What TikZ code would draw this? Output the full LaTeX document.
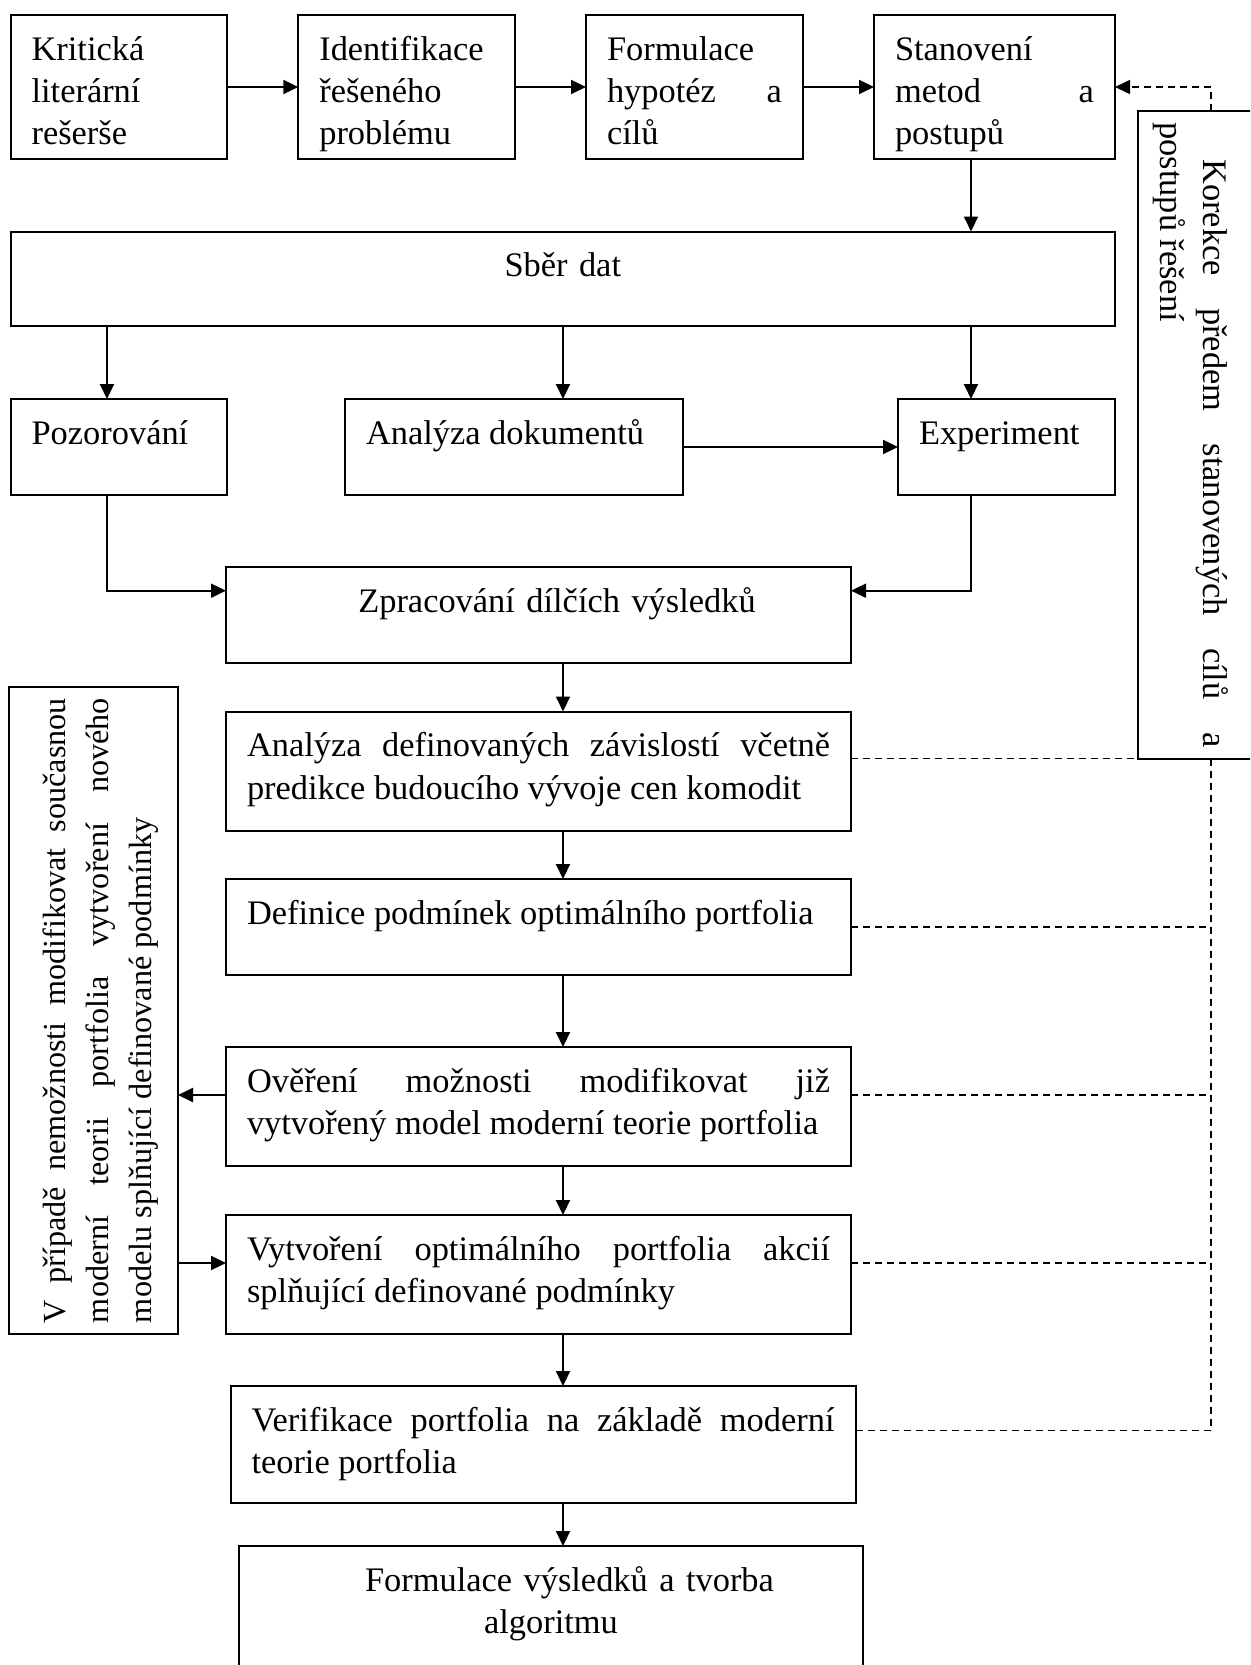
\documentclass[tikz,border=0pt]{standalone}
\usepackage{fontspec}
\setmainfont{Liberation Serif}
\usetikzlibrary{arrows.meta,positioning}

\newcommand{\boxfont}{\fontsize{17.2pt}{21.25pt}\selectfont\hyphenpenalty=10000\exhyphenpenalty=10000}
\newcommand{\sidefont}{\fontsize{16.1pt}{21.75pt}\selectfont\hyphenpenalty=10000\exhyphenpenalty=10000}

\tikzset{
    blok/.style={draw, line width=1pt, anchor=north west, outer sep=0pt, inner xsep=10.5pt, inner ysep=0pt, text height=22.5pt, align=justify, font=\boxfont}, % box with text at the top
    tip/.style={-{Triangle[length=7.5pt,width=7pt]}},
    spoj/.style={tip, line width=1pt}, % solid arrow
    carka/.style={line width=0.8pt, dash pattern=on 3.5pt off 2.5pt} % dashed line
}

\begin{document}
\begin{tikzpicture}[x=0.5pt, y=-0.5pt]
    \useasboundingbox (0,0) rectangle (1250,1665);
    \clip (0,0) rectangle (1250,1665);

    % top row, each box to the right of the previous one
    \node[blok, text width=87.35pt, text depth=49.5pt] (kl) at (10.6,15) {Kritická\linebreak literární\linebreak rešerše};
    \node[blok, text width=87.35pt, text depth=49.5pt, right=35.5pt of kl] (ip) {Identifikace\linebreak řešeného\linebreak problému};
    \node[blok, text width=87.5pt, text depth=49.5pt, right=35.5pt of ip] (fh) {Formulace\linebreak hypotéz a\linebreak cílů};
    \node[blok, text width=99.5pt, text depth=49.5pt, right=35.5pt of fh] (sm) {Stanovení\linebreak metod a\linebreak postupů};

    % data collection and its three methods
    \node[blok, align=center, text width=531.2pt, text depth=24.75pt] (sd) at (10.6,231.5) {Sběr dat};
    \node[blok, text width=87.35pt, text depth=25.5pt] (poz) at (10.6,399) {Pozorování};
    \node[blok, text width=148pt, text depth=25.5pt] (adok) at (345,399) {Analýza dokumentů};
    \node[blok, text width=87.5pt, text depth=25.5pt] (exp) at (898,399) {Experiment};

    % main column
    \node[blok, align=center, text width=291.5pt, text depth=25.5pt] (zdv) at (226,567) {\hspace*{18.5pt}Zpracování dílčích výsledků};
    \node[blok, text width=291.5pt, text depth=37pt] (azav) at (226,711.5) {Analýza definovaných závislostí včetně\linebreak predikce budoucího vývoje cen komodit};
    \node[blok, text width=291.5pt, text depth=25.5pt] (dpod) at (226,879) {Definice podmínek optimálního portfolia};
    \node[blok, text width=291.5pt, text depth=37pt] (over) at (226,1047) {Ověření možnosti modifikovat již\linebreak vytvořený model moderní teorie portfolia};
    \node[blok, text width=291.5pt, text depth=37pt] (vytv) at (226,1215) {Vytvoření optimálního portfolia akcií\linebreak splňující definované podmínky};
    \node[blok, text width=291.5pt, text depth=36pt] (verif) at (230.5,1386) {Verifikace portfolia na základě moderní\linebreak teorie portfolia};
    \node[blok, align=center, text width=291pt, text depth=44.5pt] (form) at (239,1546) {\hspace*{18.5pt}Formulace výsledků a tvorba\\algoritmu};

    % side boxes with turned text
    \node[blok, rotate=90, anchor=north east, font=\sidefont, inner xsep=5.5pt, text width=312.5pt, text height=27.85pt, text depth=56.5pt] (npr) at (9.3,687) {V případě nemožnosti modifikovat současnou\linebreak moderní teorii portfolia vytvoření nového\linebreak modelu splňující definované podmínky};
    \node[blok, rotate=-90, anchor=south west, inner xsep=5.8pt, text width=312.5pt, text height=29.35pt, text depth=32.8pt] (kor) at (1137.7,110.7) {\hspace*{18.5pt}Korekce předem stanovených cílů a\linebreak postupů řešení};

    % columns of the vertical connectors
    \coordinate (colA) at (107,0);
    \coordinate (colB) at (563,0);
    \coordinate (colC) at (971,0);
    \coordinate (bus) at (1211,0);

    % attach points on the sides of the boxes
    \coordinate (zpl) at ([yshift=-11.85pt]zdv.north west);
    \coordinate (zpr) at ([yshift=-11.85pt]zdv.north east);
    \coordinate (az1) at ([yshift=-23.5pt]azav.north east);
    \coordinate (dp1) at ([yshift=-24pt]dpod.north east);
    \coordinate (ov1) at ([yshift=-24pt]over.north east);
    \coordinate (ov2) at ([yshift=-24pt]over.north west);
    \coordinate (vy1) at ([yshift=-24pt]vytv.north east);
    \coordinate (vy2) at ([yshift=-24pt]vytv.north west);
    \coordinate (ve1) at ([yshift=-22.25pt]verif.north east);

    % solid arrows
    \draw[spoj] (kl) -- (ip);
    \draw[spoj] (ip) -- (fh);
    \draw[spoj] (fh) -- (sm);
    \draw[spoj] (sm.south -| colC) -- (sd.north -| colC);
    \draw[spoj] (sd.south -| colA) -- (poz.north -| colA);
    \draw[spoj] (sd.south -| colB) -- (adok.north -| colB);
    \draw[spoj] (sd.south -| colC) -- (exp.north -| colC);
    \draw[spoj] (adok) -- (exp);
    \draw[spoj] (poz.south -| colA) |- (zpl);
    \draw[spoj] (exp.south -| colC) |- (zpr);
    \draw[spoj] (zdv.south -| colB) -- (azav.north -| colB);
    \draw[spoj] (azav.south -| colB) -- (dpod.north -| colB);
    \draw[spoj] (dpod.south -| colB) -- (over.north -| colB);
    \draw[spoj] (over.south -| colB) -- (vytv.north -| colB);
    \draw[spoj] (vytv.south -| colB) -- (verif.north -| colB);
    \draw[spoj] (verif.south -| colB) -- (form.north -| colB);
    \draw[spoj] (ov2) -- (ov2 -| npr.south);
    \draw[spoj] (vy2 -| npr.south) -- (vy2);

    % dashed feedback lines
    \draw[carka] (az1) -- (az1 -| bus);
    \draw[carka] (dp1) -- (dp1 -| bus);
    \draw[carka] (ov1) -- (ov1 -| bus);
    \draw[carka] (vy1) -- (vy1 -| bus);
    \draw[carka] (ve1) -- (ve1 -| bus);
    \draw[carka] (az1 -| bus) -- (ve1 -| bus);
    \draw[carka, tip] (kor.west -| bus) |- (sm.east);
\end{tikzpicture}
\end{document}
